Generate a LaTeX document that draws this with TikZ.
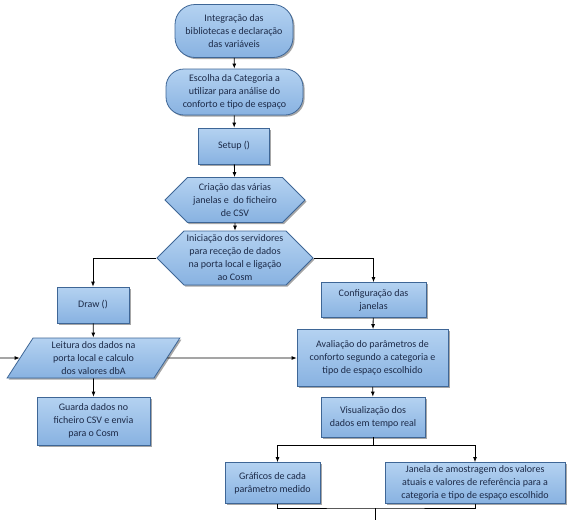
\documentclass[tikz,border=0pt]{standalone}
\usepackage{fontspec}
\setmainfont{Carlito}
\usetikzlibrary{shapes.geometric,shapes.symbols,shadows,arrows.meta}
\definecolor{boxtop}{RGB}{180,210,241}
\definecolor{boxbot}{RGB}{136,178,225}
\definecolor{boxline}{RGB}{62,102,150}
\definecolor{boxtext}{RGB}{28,42,72}
\tikzset{
  blk/.style={draw=boxline, line width=0.8pt, top color=boxtop, bottom color=boxbot,
    text=boxtext, align=center, font=\fontsize{10}{13}\selectfont, inner sep=2pt,
    drop shadow={shadow xshift=1.6pt, shadow yshift=-1.6pt, fill=black, opacity=0.35}},
  term/.style={blk, rectangle, rounded corners=18pt},
  proc/.style={blk, rectangle},
  prep/.style={blk, signal, signal to=west and east, signal pointer angle=90, inner sep=1pt},
  io/.style={blk, trapezium, trapezium left angle=63, trapezium right angle=117, trapezium stretches}
}
\begin{document}
\begin{tikzpicture}[x=1pt, y=-1pt, >={Latex[length=5pt,width=4pt]}, line width=0.8pt]
  \useasboundingbox (0,0) rectangle (573,520);
  % inicio
  \node[term, minimum width=118pt, minimum height=53pt, rounded corners=20pt] (ini) at (234,31) {Integração das\\bibliotecas e declaração\\das variáveis};
  \node[term, minimum width=137pt, minimum height=46pt] (cat) at (234.5,92) {Escolha da Categoria a\\utilizar para análise do\\conforto e tipo de espaço};
  \node[proc, minimum width=71pt, minimum height=36pt] (setup) at (234,146) {Setup ()};
  \node[prep, minimum width=140pt, minimum height=45pt] (csv) at (235,200) {Criação das várias\\janelas e \ do ficheiro\\de CSV};
  \node[prep, minimum width=156pt, minimum height=54pt] (serv) at (235,258) {Iniciação dos servidores\\para receção de dados\\na porta local e ligação\\ao Cosm};
  % ramo esquerdo
  \node[proc, minimum width=72pt, minimum height=36pt] (drawfn) at (93,305) {Draw ()};
  \node[io, minimum width=173pt, minimum height=40pt] (read) at (93.5,358) {Leitura dos dados na\\porta local e calculo\\dos valores dbA};
  \node[proc, minimum width=113pt, minimum height=48pt] (save) at (93.5,421) {Guarda dados no\\ficheiro CSV e envia\\para o Cosm};
  % ramo direito
  \node[proc, minimum width=105pt, minimum height=35pt] (conf) at (373.5,300) {Configuração das\\janelas};
  \node[proc, minimum width=151pt, minimum height=57pt] (eval) at (372.5,358) {Avaliação do parâmetros de\\conforto segundo a categoria e\\tipo de espaço escolhido};
  \node[proc, minimum width=104pt, minimum height=40pt] (show) at (373,417) {Visualização dos\\dados em tempo real};
  \node[proc, minimum width=95pt, minimum height=41pt] (graf) at (272.5,483) {Gráficos de cada\\parâmetro medido};
  \node[proc, minimum width=180pt, minimum height=41pt] (win) at (475,483) {Janela de amostragem dos valores\\atuais e valores de referência para a\\categoria e tipo de espaço escolhido};
  \coordinate (in) at (0,358);
  \coordinate (join) at (375,508);
  \coordinate (out) at (375,520);
  % ligacoes
  \draw[->] (ini) -- (cat);
  \draw[->] (cat) -- (setup);
  \draw[->] (setup) -- (csv);
  \draw[->] (csv) -- (serv);
  \draw[->] (serv.west) -| (drawfn);
  \draw[->] (serv.east) -| (conf);
  \draw[->] (drawfn) -- (read);
  \draw[->] (read) -- (save);
  \draw[->] (in) -- (read);
  \draw[->] (read) -- (eval);
  \draw[->] (conf) -- (eval);
  \draw[->] (eval) -- (show);
  \draw[->] (show.south) -- ++(0,8) coordinate (split) -| ([xshift=5pt]graf.north);
  \draw[->] (split) -| (win);
  \draw ([xshift=5pt]graf.south) |- (join) -| (win.south);
  \draw (join) -- (out);
\end{tikzpicture}
\end{document}
